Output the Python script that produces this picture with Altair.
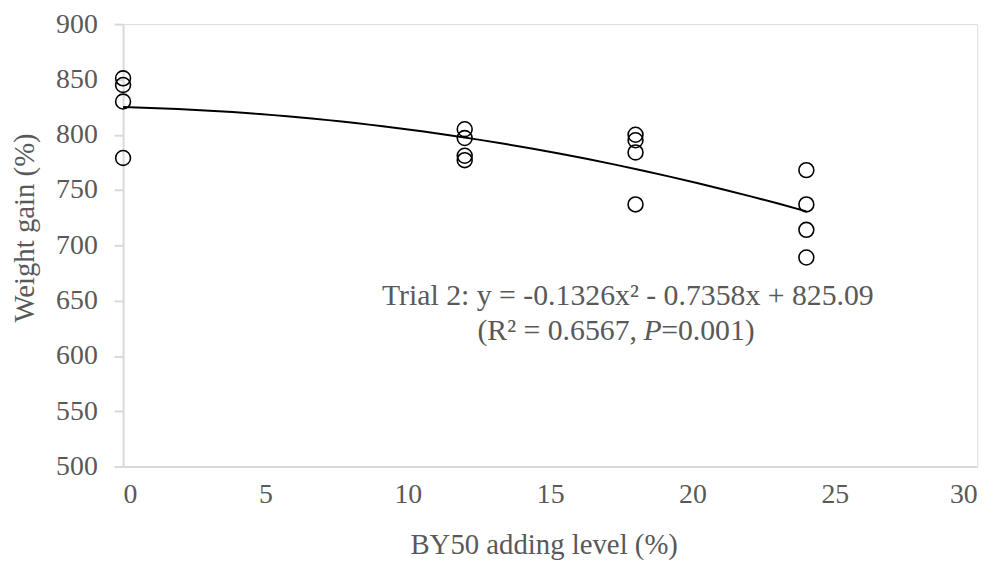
import altair as alt
import pandas as pd

# data
levels = [0, 0, 0, 0, 12, 12, 12, 12, 18, 18, 18, 18, 24, 24, 24, 24]
gains = [851, 845, 830, 779, 805, 797, 781, 777, 800, 795, 784, 737, 768, 737, 714, 689]

eq_line = "Trial 2: y = -0.1326x\u00b2 - 0.7358x + 825.09"
r2_part = "(R\u00b2 = 0.6567,"
p_part = "P"
p_val = "=0.001)"

FONT = "Liberation Serif"
GREY = "#595959"
FS = 28

df = pd.DataFrame({"level": levels, "gain": gains})

xs = alt.Scale(domain=[0, 30], nice=False)
ys = alt.Scale(domain=[500, 900], nice=False, zero=False)

base = alt.Chart(df)

points = base.mark_point(shape="circle", filled=False, color="black", size=225, strokeWidth=1.6, opacity=1).encode(
    x=alt.X("level:Q", scale=xs, axis=alt.Axis(
        title="BY50 adding level (%)", values=[0, 5, 10, 15, 20, 25, 30], grid=False, ticks=False,
        domainColor="#d9d9d9", domainWidth=2, labelFont=FONT, labelFontSize=FS, labelColor=GREY,
        labelPadding=14, titleFont=FONT, titleFontSize=FS + 1, titleColor=GREY, titleFontWeight="normal",
        titleBaseline="middle", titleY=79, titleX=424)),
    y=alt.Y("gain:Q", scale=ys, axis=alt.Axis(
        title="Weight gain (%)", values=list(range(500, 901, 50)), grid=False, ticks=True, tickSize=9,
        tickColor="#d9d9d9", tickWidth=2, domainColor="#d9d9d9", domainWidth=2,
        labelFont=FONT, labelFontSize=FS, labelColor=GREY, labelPadding=17,
        titleFont=FONT, titleFontSize=FS + 1, titleColor=GREY, titleFontWeight="normal",
        titleAngle=-90, titleBaseline="middle", titleX=-99, titleY=205)),
)

trend = base.transform_regression("level", "gain", method="poly", order=2, extent=[0, 24]).mark_line(
    color="black", strokeWidth=2).encode(x=alt.X("level:Q", scale=xs), y=alt.Y("gain:Q", scale=ys))

def txt(s, x, y, align, italic=False):
    return alt.Chart(pd.DataFrame({"x": [x], "y": [y], "t": [s]})).mark_text(
        font=FONT, fontSize=FS + 2, color=GREY, align=align, baseline="middle",
        fontStyle="italic" if italic else "normal").encode(
        x=alt.X("x:Q", scale=xs), y=alt.Y("y:Q", scale=ys), text="t:N")

texts = (txt(eq_line, 17.73, 654.5, "center")
         + txt(r2_part, 18.05, 622.3, "right")
         + txt(p_part, 18.60, 622.3, "center", italic=True)
         + txt(p_val, 18.90, 622.3, "left"))

chart = (trend + points + texts).properties(
    width=861, height=446,
    autosize=alt.AutoSizeParams(type="none"),
    padding={"left": 116, "top": 14, "right": 22, "bottom": 99},
).configure_view(stroke=None).configure(background="white")

chart.save("out.html", embed_options={"renderer": "svg", "actions": False})
